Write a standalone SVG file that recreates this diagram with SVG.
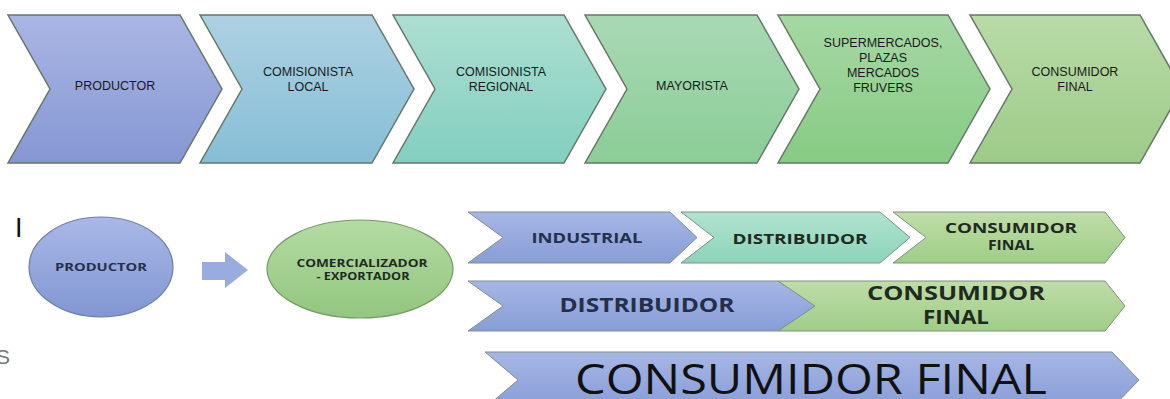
<svg xmlns="http://www.w3.org/2000/svg" width="1170" height="399" viewBox="0 0 1170 399">
<defs>
<linearGradient id="g1" x1="0" y1="0" x2="0" y2="1"><stop offset="0" stop-color="#aab6e3"/><stop offset="1" stop-color="#8597d3"/></linearGradient>
<linearGradient id="g2" x1="0" y1="0" x2="0" y2="1"><stop offset="0" stop-color="#add1e2"/><stop offset="1" stop-color="#86bed6"/></linearGradient>
<linearGradient id="g3" x1="0" y1="0" x2="0" y2="1"><stop offset="0" stop-color="#acdfd2"/><stop offset="1" stop-color="#83cfbf"/></linearGradient>
<linearGradient id="g4" x1="0" y1="0" x2="0" y2="1"><stop offset="0" stop-color="#a9d9b4"/><stop offset="1" stop-color="#8bcd97"/></linearGradient>
<linearGradient id="g5" x1="0" y1="0" x2="0" y2="1"><stop offset="0" stop-color="#a6d8a4"/><stop offset="1" stop-color="#87cb84"/></linearGradient>
<linearGradient id="g6" x1="0" y1="0" x2="0" y2="1"><stop offset="0" stop-color="#b8dba7"/><stop offset="1" stop-color="#9ecb89"/></linearGradient>
<linearGradient id="gb" x1="0" y1="0" x2="0" y2="1"><stop offset="0" stop-color="#a6b6e5"/><stop offset="1" stop-color="#889dd7"/></linearGradient>
<linearGradient id="gt" x1="0" y1="0" x2="0" y2="1"><stop offset="0" stop-color="#b0e3d0"/><stop offset="1" stop-color="#8dd3b9"/></linearGradient>
<linearGradient id="gg" x1="0" y1="0" x2="0" y2="1"><stop offset="0" stop-color="#bfdda8"/><stop offset="1" stop-color="#9fcd87"/></linearGradient>
<linearGradient id="ge1" x1="0" y1="0" x2="0" y2="1"><stop offset="0" stop-color="#a9b8e6"/><stop offset="1" stop-color="#8196d2"/></linearGradient>
<linearGradient id="ge2" x1="0" y1="0" x2="0" y2="1"><stop offset="0" stop-color="#b4dba4"/><stop offset="1" stop-color="#92c67e"/></linearGradient>
<style>
.top{stroke:#667766;stroke-width:1.5;}
.bot{stroke:#7f8f86;stroke-width:1;}
.t1{font-family:"Liberation Sans",Arial,sans-serif;font-size:12.5px;fill:#1a1a1a;text-anchor:middle;}
.tb{font-family:"Open Sans","Liberation Sans",sans-serif;font-weight:bold;fill:#24304a;text-anchor:middle;}
.tg{font-family:"Open Sans","Liberation Sans",sans-serif;font-weight:bold;fill:#1f2b1f;text-anchor:middle;}
.tr{font-family:"Open Sans","Liberation Sans",sans-serif;fill:#111;text-anchor:middle;}
</style>
</defs>
<rect width="1170" height="399" fill="#ffffff"/>

<g id="top-productor"><path class="top" fill="url(#g1)" d="M8,15 L180,15 L222,89 L180,163 L8,163 L50,89 Z"/><text class="t1" x="115" y="90">PRODUCTOR</text></g>
<g id="top-comisionista-local"><path class="top" fill="url(#g2)" d="M200,15 L372,15 L414,89 L372,163 L200,163 L242,89 Z"/><text class="t1" x="308" y="76">COMISIONISTA</text><text class="t1" x="308" y="91">LOCAL</text></g>
<g id="top-comisionista-regional"><path class="top" fill="url(#g3)" d="M393,15 L564,15 L606,89 L564,163 L393,163 L435,89 Z"/><text class="t1" x="501" y="76">COMISIONISTA</text><text class="t1" x="501" y="91">REGIONAL</text></g>
<g id="top-mayorista"><path class="top" fill="url(#g4)" d="M585,15 L757,15 L799,89 L757,163 L585,163 L627,89 Z"/><text class="t1" x="692" y="90">MAYORISTA</text></g>
<g id="top-supermercados"><path class="top" fill="url(#g5)" d="M778,15 L948,15 L990,89 L948,163 L778,163 L820,89 Z"/><text class="t1" x="883" y="47">SUPERMERCADOS,</text><text class="t1" x="883" y="62">PLAZAS</text><text class="t1" x="883" y="77">MERCADOS</text><text class="t1" x="883" y="92">FRUVERS</text></g>
<g id="top-consumidor-final"><path class="top" fill="url(#g6)" d="M970,15 L1140,15 L1182,89 L1140,163 L970,163 L1012,89 Z"/><text class="t1" x="1075" y="76">CONSUMIDOR</text><text class="t1" x="1075" y="91">FINAL</text></g>

<text x="15" y="237" font-family="Liberation Sans,Arial,sans-serif" font-size="27" fill="#111">I</text>
<text x="-4" y="364" font-family="Liberation Sans,Arial,sans-serif" font-size="21" fill="#777">S</text>

<g id="el-productor"><ellipse cx="101" cy="267" rx="72" ry="50" fill="url(#ge1)" stroke="#6f7ea8" stroke-width="1.2"/><text class="tb" x="101" y="271" font-size="11" textLength="92" lengthAdjust="spacingAndGlyphs">PRODUCTOR</text></g>
<g id="connectors"><path d="M202,262 L225,262 L225,252 L248,270 L225,288 L225,280 L202,280 Z" fill="#98ace0"/></g>
<g id="el-comercializador"><ellipse cx="360" cy="269" rx="93" ry="49" fill="url(#ge2)" stroke="#779a68" stroke-width="1.2"/><text class="tg" x="362" y="267" font-size="10" textLength="131" lengthAdjust="spacingAndGlyphs">COMERCIALIZADOR</text><text class="tg" x="363" y="280" font-size="10" textLength="93" lengthAdjust="spacingAndGlyphs">- EXPORTADOR</text></g>

<g id="r1-industrial"><path class="bot" fill="url(#gb)" d="M468,212 L670,212 L697,237.5 L670,263 L468,263 L503,237.5 Z"/><text class="tb" x="587" y="243" font-size="14" textLength="111" lengthAdjust="spacingAndGlyphs">INDUSTRIAL</text></g>
<g id="r1-distribuidor"><path class="bot" fill="url(#gt)" d="M681,212 L880,212 L910,237.5 L880,263 L681,263 L714,237.5 Z"/><text class="tg" x="800" y="244" font-size="14" textLength="135" lengthAdjust="spacingAndGlyphs" fill="#1f3a30">DISTRIBUIDOR</text></g>
<g id="r1-consumidor"><path class="bot" fill="url(#gg)" d="M893,212 L1105,212 L1125,237.5 L1105,263 L893,263 L926,237.5 Z"/><text class="tg" x="1011" y="233" font-size="13.5" textLength="132" lengthAdjust="spacingAndGlyphs">CONSUMIDOR</text><text class="tg" x="1011" y="250" font-size="13.5" textLength="46" lengthAdjust="spacingAndGlyphs">FINAL</text></g>

<g id="r2-consumidor"><path class="bot" fill="url(#gg)" d="M778,281 L1105,281 L1125,306 L1105,331 L778,331 Z"/><text class="tg" x="956" y="300" font-size="19.5" textLength="178" lengthAdjust="spacingAndGlyphs">CONSUMIDOR</text><text class="tg" x="956" y="324" font-size="19.5" textLength="66" lengthAdjust="spacingAndGlyphs">FINAL</text></g>
<g id="r2-distribuidor"><path class="bot" fill="url(#gb)" d="M468,281 L778,281 L815,306 L778,331 L468,331 L503,306 Z"/><text class="tb" x="647" y="312" font-size="20" textLength="175" lengthAdjust="spacingAndGlyphs">DISTRIBUIDOR</text></g>

<g id="r3-consumidor-final"><path class="bot" fill="url(#gb)" d="M485,352 L1112,352 L1139,380 L1112,408 L485,408 L518,380 Z"/><text class="tr" x="811" y="394" font-size="42" textLength="472" lengthAdjust="spacingAndGlyphs">CONSUMIDOR FINAL</text></g>
</svg>
